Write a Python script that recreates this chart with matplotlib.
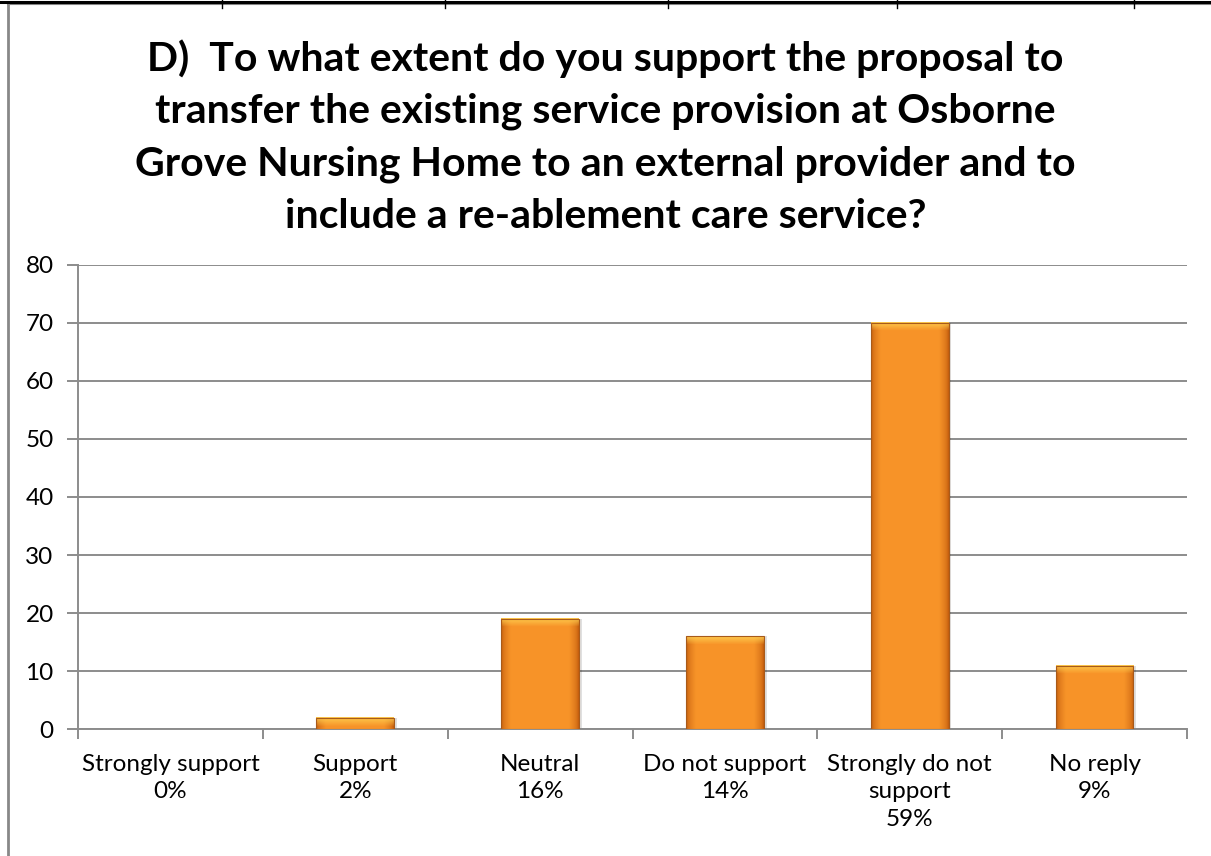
import numpy as np
import matplotlib.pyplot as plt
from matplotlib.lines import Line2D

# data
categories = ["Strongly support", "Support", "Neutral", "Do not support",
              "Strongly do not support", "No reply"]
tick_labels = ["Strongly support\n0%", "Support\n2%", "Neutral\n16%",
               "Do not support\n14%", "Strongly do not\nsupport\n59%", "No reply\n9%"]
counts = [0, 2, 19, 16, 70, 11]
yticks = [0, 10, 20, 30, 40, 50, 60, 70, 80]

title = ("D)  To what extent do you support the proposal to\n"
         "transfer the existing service provision at Osborne\n"
         "Grove Nursing Home to an external provider and to\n"
         "include a re-ablement care service?")

plt.rcParams['font.family'] = ['Lato', 'DejaVu Sans']
grid_col = '#8c8c8c'

fig = plt.figure(figsize=(12.11, 8.56), dpi=100)
ax = fig.add_axes([0.0644, 0.1478, 0.9158, 0.5432])

x = np.arange(len(categories))
w = 0.42

# gradient to look like the Excel bevelled bars
def bar_image(h_px):
    nx = 60
    t = np.linspace(0, 1, nx)
    edge = np.minimum(t, 1 - t) * 2
    prof = np.clip(edge / 0.25, 0, 1) ** 0.6
    dark = np.array([0.78, 0.38, 0.06])
    light = np.array([0.97, 0.58, 0.16])
    row = dark[None, :] * (1 - prof[:, None]) + light[None, :] * prof[:, None]
    ny = max(int(h_px), 2)
    img = np.repeat(row[None, :, :], ny, axis=0)
    top = min(8, ny)
    yel = np.array([1.0, 0.82, 0.32])
    for i in range(top):
        a = (1 - i / 8.0) * 0.85
        img[i] = img[i] * (1 - a) + yel[None, :] * a
    return img

px_per_unit = (729.5 - 264.5) / 80.0
for xi, v in zip(x, counts):
    if v <= 0:
        continue
    img = bar_image(v * px_per_unit)
    # soft shadow
    ax.bar(xi + 0.01, v, width=w + 0.01, color='#000000', alpha=0.12, zorder=2, linewidth=0)
    ax.imshow(img, extent=(xi - w / 2, xi + w / 2, 0, v), aspect='auto',
              zorder=3, interpolation='bilinear')
    ax.bar(xi, v, width=w, fill=False, edgecolor='#a85a1a', linewidth=0.8, zorder=4)

ax.set_xlim(-0.5, len(categories) - 0.5)
ax.set_ylim(0, 80)
ax.set_yticks(yticks)
ax.set_yticklabels([str(t) for t in yticks], fontsize=17.5)
ax.yaxis.grid(True, color=grid_col, linewidth=1.4)
ax.set_axisbelow(True)

ax.set_xticks(np.arange(-0.5, len(categories), 1.0))
ax.set_xticklabels([])
ax.set_xticks(x, minor=True)
ax.set_xticklabels(tick_labels, minor=True, fontsize=17.5, linespacing=1.38, va='top')
ax.tick_params(axis='x', which='minor', length=0, pad=17.5)
ax.tick_params(axis='x', which='major', length=7, width=1.4, color=grid_col, direction='out')
ax.tick_params(axis='y', length=8, width=1.4, color=grid_col, pad=9.5)

for s in ['top', 'right']:
    ax.spines[s].set_visible(False)
ax.spines['left'].set_color(grid_col)
ax.spines['left'].set_linewidth(1.4)
ax.spines['bottom'].set_color(grid_col)
ax.spines['bottom'].set_linewidth(1.4)
ax.set_xlim(-0.5, len(categories) - 0.5)

fig.text(0.5, 1 - 137 / 856, title, ha='center', va='center', fontsize=29.5,
         fontweight='bold', linespacing=1.5)

# chart frame and table line at the top
fig.add_artist(Line2D([8 / 1211, 8 / 1211], [0, 1 - 3 / 856], color='#888888', linewidth=2))
fig.add_artist(Line2D([8 / 1211, 1], [1 - 4 / 856, 1 - 4 / 856], color='#888888', linewidth=1.5))
fig.add_artist(Line2D([0, 1], [1 - 1.5 / 856, 1 - 1.5 / 856], color='black', linewidth=2.2))
for xp in [222, 445, 668, 897, 1134]:
    fig.add_artist(Line2D([xp / 1211, xp / 1211], [1 - 8 / 856, 1], color='black', linewidth=1))

fig.savefig('out.png', dpi=100)
